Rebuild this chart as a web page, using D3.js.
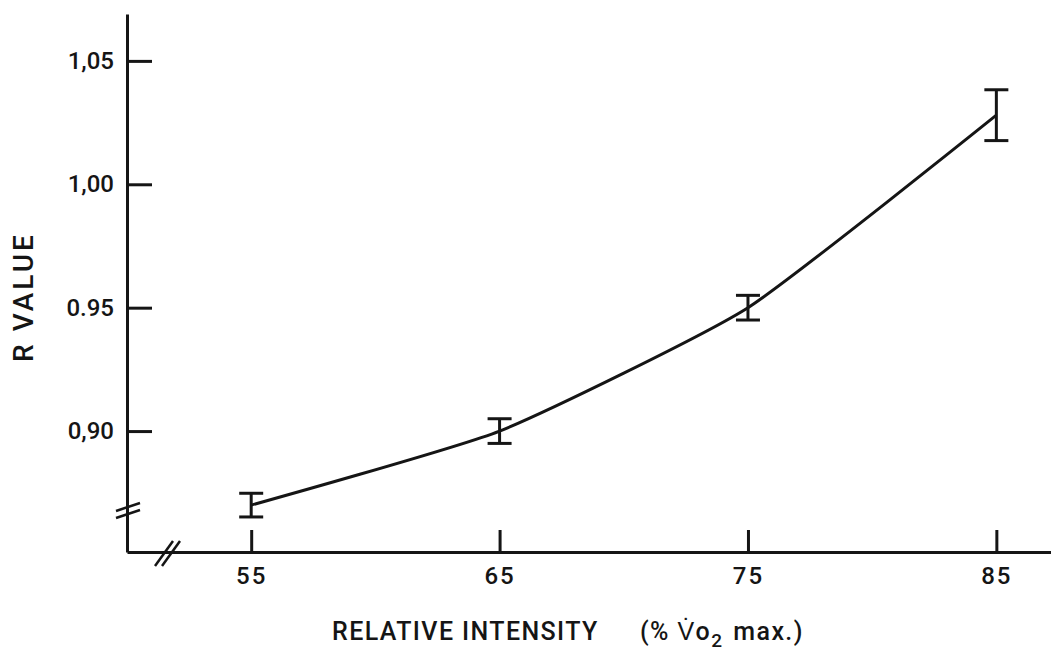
<!DOCTYPE html>
<html>
<head>
<meta charset="utf-8">
<script src="https://cdn.jsdelivr.net/npm/d3@7"></script>
<style>
    body { margin: 0; background: #fff; }
    svg { display: block; }
    .axis path, .axis line { stroke: #151515; stroke-width: 3; }
    .axis text { font-family: Roboto, "Liberation Sans", sans-serif; font-weight: 500; fill: #151515; }
</style>
</head>
<body>
<svg id="chart" width="1051" height="651"></svg>
<script>
    // intensity (% VO2 max) and mean R value with error half-widths
    var intensity = [55, 65, 75, 85];
    var rValue = [0.870, 0.900, 0.950, 1.028];
    var rError = [0.0048, 0.005, 0.005, 0.0103];

    var yTickValues = [0.90, 0.95, 1.00, 1.05];
    var yTickLabels = ['0,90', '0.95', '1,00', '1,05'];
    var xTickValues = [55, 65, 75, 85];

    var ink = '#151515';

    var svg = d3.select('#chart');

    var x = d3.scaleLinear().domain([50, 87.2]).range([127, 1051]);
    var y = d3.scaleLinear().domain([0.851, 1.069]).range([552, 14]);

    /*=============== AXES ===============*/

    var yAxis = d3.axisLeft(y)
        .tickValues(yTickValues)
        .tickFormat(function (d, i) { return yTickLabels[i]; })
        .tickSizeInner(-25)
        .tickSizeOuter(0)
        .tickPadding(13);

    var yAxisG = svg.append('g')
        .attr('class', 'axis')
        .attr('transform', 'translate(' + x(50) + ',0)')
        .call(yAxis);
    yAxisG.selectAll('text').attr('font-size', '24px');

    var xAxis = d3.axisBottom(x)
        .tickValues(xTickValues)
        .tickSizeInner(-22)
        .tickSizeOuter(0)
        .tickPadding(15);

    var xAxisG = svg.append('g')
        .attr('class', 'axis')
        .attr('transform', 'translate(0,' + y(0.851) + ')')
        .call(xAxis);
    xAxisG.selectAll('text').attr('font-size', '24px').attr('letter-spacing', '2px');

    // axis break marks
    var breaks = svg.append('g').attr('stroke', ink).attr('stroke-width', 2.5);
    [0, 7].forEach(function (off) {
        breaks.append('line')
            .attr('x1', 116).attr('y1', 511 + off)
            .attr('x2', 140).attr('y2', 503 + off);
        breaks.append('line')
            .attr('x1', 155 + off).attr('y1', 566)
            .attr('x2', 173 + off).attr('y2', 541);
    });

    /*=============== DATA ===============*/

    var points = intensity.map(function (d, i) {
        return { x: d, y: rValue[i], e: rError[i] };
    });

    var line = d3.line()
        .x(function (d) { return x(d.x); })
        .y(function (d) { return y(d.y); })
        .curve(d3.curveCardinal.tension(0.5));

    svg.append('path')
        .datum(points)
        .attr('d', line)
        .attr('fill', 'none')
        .attr('stroke', ink)
        .attr('stroke-width', 3);

    var bars = svg.selectAll('g.err')
        .data(points)
        .enter().append('g')
        .attr('class', 'err')
        .attr('stroke', ink)
        .attr('stroke-width', 3);

    bars.append('line')
        .attr('x1', function (d) { return x(d.x); })
        .attr('x2', function (d) { return x(d.x); })
        .attr('y1', function (d) { return y(d.y + d.e); })
        .attr('y2', function (d) { return y(d.y - d.e); });

    [1, -1].forEach(function (s) {
        bars.append('line')
            .attr('x1', function (d) { return x(d.x) - 12; })
            .attr('x2', function (d) { return x(d.x) + 12; })
            .attr('y1', function (d) { return y(d.y + s * d.e); })
            .attr('y2', function (d) { return y(d.y + s * d.e); });
    });

    /*=============== TITLES ===============*/

    svg.append('text')
        .attr('transform', 'translate(33,297) rotate(-90)')
        .attr('text-anchor', 'middle')
        .attr('font-family', 'Roboto, Liberation Sans, sans-serif')
        .attr('font-weight', 500)
        .attr('font-size', '28px')
        .attr('letter-spacing', '3px')
        .attr('fill', ink)
        .text('R VALUE');

    var xTitle = svg.append('text')
        .attr('x', 332)
        .attr('y', 640)
        .attr('font-family', 'Roboto, Liberation Sans, sans-serif')
        .attr('font-weight', 500)
        .attr('font-size', '25px')
        .attr('letter-spacing', '1.4px')
        .attr('fill', ink)
        .attr('xml:space', 'preserve');
    xTitle.append('tspan').text('RELATIVE INTENSITY');
    xTitle.append('tspan').attr('x', 640).text('(% V\u0307o');
    xTitle.append('tspan').attr('dy', 7).attr('font-size', '19px').text('2');
    xTitle.append('tspan').attr('dy', -7).attr('dx', 10).text('max.)');
</script>
</body>
</html>
